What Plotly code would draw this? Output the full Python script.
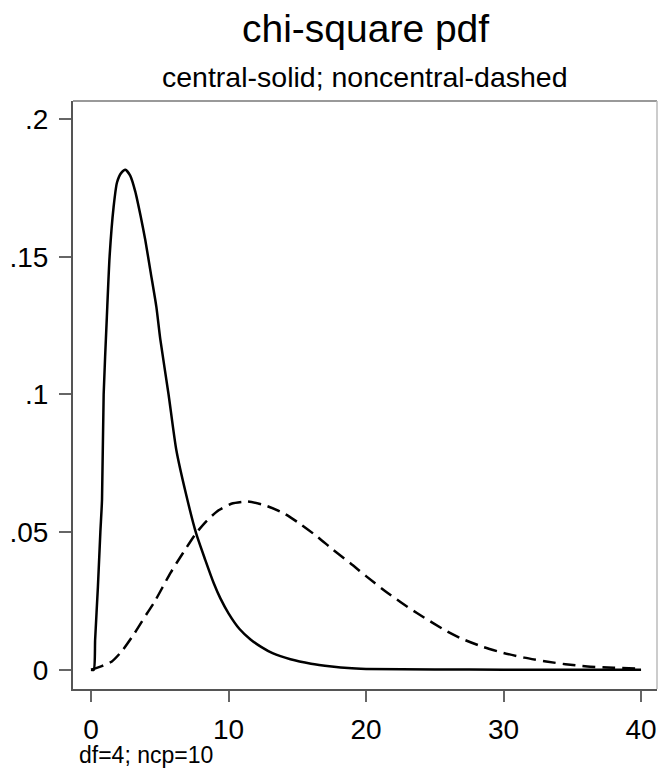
import plotly.graph_objects as go

# Central chi-square (df=4)
central_x = [0, 0.2, 0.3, 0.5, 0.68, 0.8, 0.92, 1.15, 1.35, 1.64, 1.89, 2.2, 2.5, 2.85, 3.22, 3.6,
             3.95, 4.35, 4.75, 5.04, 5.64, 6.2, 6.9, 7.64, 8.3, 8.92, 9.4, 10.0, 10.8, 11.6, 12.4,
             13.2, 14.5, 16.0, 17.5, 18.7, 20, 25, 30, 35, 40]
central_y = [0, 0, 0.011, 0.03, 0.05, 0.0617, 0.1, 0.128, 0.15, 0.168, 0.177, 0.1805, 0.1816, 0.1795,
             0.1737, 0.165, 0.156, 0.144, 0.1319, 0.12, 0.1, 0.0799, 0.064, 0.0496, 0.04, 0.0315,
             0.026, 0.0205, 0.0148, 0.011, 0.0082, 0.006, 0.0038, 0.0022, 0.0012, 0.0006, 0.0003,
             0.0001, 0, 0, 0]

# Noncentral chi-square (df=4, ncp=10)
noncentral_x = [0, 0.73, 1.52, 2.25, 3.17, 4.09, 4.6, 5.77, 6.7, 7.64, 8.4, 9.16, 10.2, 11.35, 12.6,
                14.0, 15.2, 16.44, 17.6, 18.86, 20.0, 21.28, 22.5, 23.7, 25.9, 27.0, 28.5, 30.0,
                31.5, 33.1, 34.5, 36.1, 38, 40]
noncentral_y = [0, 0.0012, 0.003, 0.0068, 0.0133, 0.0206, 0.0245, 0.0351, 0.0425, 0.0496, 0.054,
                0.0575, 0.0603, 0.0611, 0.0598, 0.0569, 0.053, 0.0484, 0.0436, 0.0387, 0.034, 0.029,
                0.0246, 0.0206, 0.0139, 0.0112, 0.0083, 0.0061, 0.0044, 0.003, 0.002, 0.0012,
                0.0007, 0.0004]

x_ticks = [0, 10, 20, 30, 40]
x_ticktext = ["0", "10", "20", "30", "40"]
y_ticks = [0, 0.05, 0.1, 0.15, 0.2]
y_ticktext = ["0", ".05", ".1", ".15", ".2"]

FONT = "Liberation Sans, Arial, Helvetica, sans-serif"

fig = go.Figure()
fig.add_trace(go.Scatter(x=central_x, y=central_y, mode="lines",
                         line=dict(color="black", width=2.5, shape="spline", smoothing=0.6),
                         showlegend=False))
fig.add_trace(go.Scatter(x=noncentral_x, y=noncentral_y, mode="lines",
                         line=dict(color="black", width=2.5, dash="13px,7px",
                                   shape="spline", smoothing=0.6),
                         showlegend=False))

fig.update_layout(
    width=658, height=769,
    margin=dict(l=73, r=1, t=101, b=80),
    paper_bgcolor="white", plot_bgcolor="white",
    font=dict(family=FONT, color="black"),
    xaxis=dict(range=[-1.31, 41.16], tickvals=x_ticks, ticktext=x_ticktext,
               showgrid=False, zeroline=False, showline=True, linecolor="#555", linewidth=2,
               ticks="outside", ticklen=11, tickwidth=2, tickcolor="#666",
               tickfont=dict(size=28, family=FONT, color="black"), ticklabelstandoff=3),
    yaxis=dict(range=[-0.0070, 0.2066], tickvals=y_ticks, ticktext=y_ticktext,
               showgrid=False, zeroline=False, showline=True, linecolor="#555", linewidth=2,
               ticks="outside", ticklen=12, tickwidth=2, tickcolor="#666",
               tickfont=dict(size=28, family=FONT, color="black"), ticklabelstandoff=5),
    shapes=[
        dict(type="line", xref="paper", yref="paper", x0=0, x1=1, y0=1, y1=1,
             line=dict(color="#999", width=2)),
        dict(type="line", xref="paper", yref="paper", x0=1, x1=1, y0=0, y1=1,
             line=dict(color="#bbb", width=1.5)),
    ],
    annotations=[
        dict(text="chi-square pdf", xref="paper", yref="paper", x=0.5, y=1.124,
             xanchor="center", yanchor="middle", showarrow=False,
             font=dict(size=39, family=FONT, color="black")),
        dict(text="central-solid; noncentral-dashed", xref="paper", yref="paper", x=0.5, y=1.0416,
             xanchor="center", yanchor="middle", showarrow=False,
             font=dict(size=28.5, family=FONT, color="black")),
        dict(text="df=4; ncp=10", xref="paper", yref="paper", x=0.006, y=-0.1115,
             xanchor="left", yanchor="middle", showarrow=False,
             font=dict(size=23, family=FONT, color="black")),
    ],
)

fig.write_html("out.html")
